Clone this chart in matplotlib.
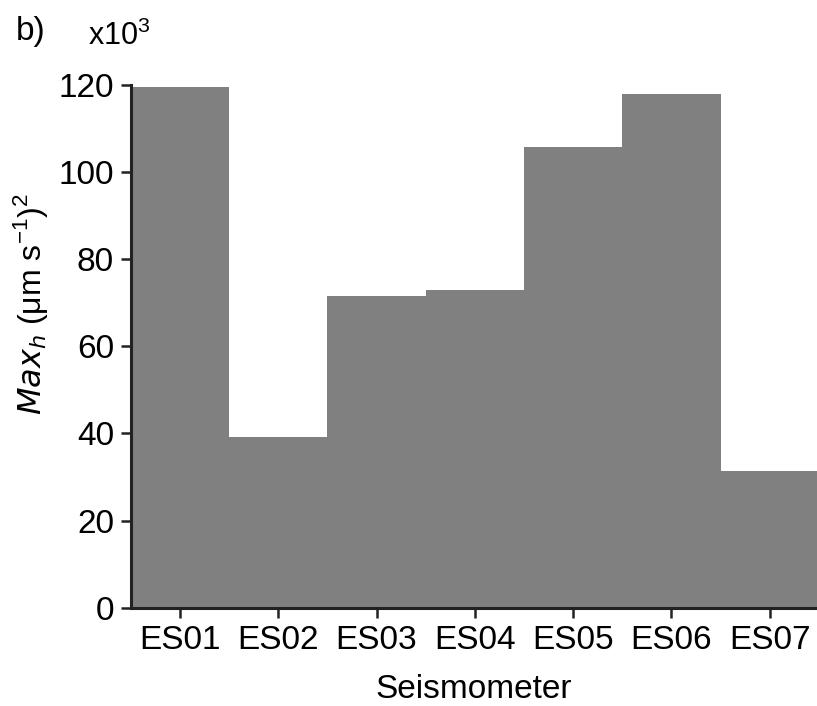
import numpy as np
import matplotlib.pyplot as plt

plt.rcParams['font.family'] = ['Liberation Sans', 'DejaVu Sans']

stations = ["ES01", "ES02", "ES03", "ES04", "ES05", "ES06", "ES07"]
max_h = [119.5, 39.3, 71.5, 72.9, 105.6, 117.8, 31.3]  # x10^3
yticks = [0, 20, 40, 60, 80, 100, 120]

fig = plt.figure(figsize=(8.17, 7.06), dpi=100)
ax = fig.add_axes([0.160, 0.139, 0.840, 0.741])

x = np.arange(1, len(stations) + 1)
ax.bar(x, max_h, width=1.0, color="#808080", edgecolor="none")

ax.set_xlim(0.5, 7.48)
ax.set_ylim(0, 120)
ax.set_yticks(yticks)
ax.set_xticks(x)
ax.set_xticklabels(stations)
ax.tick_params(labelsize=24, length=7, width=1.8, color="#222222", pad=5)
for s in ["top", "right"]:
    ax.spines[s].set_visible(False)
for s in ["left", "bottom"]:
    ax.spines[s].set_linewidth(2.2)
    ax.spines[s].set_color("#222222")

ax.set_xlabel("Seismometer", fontsize=24, labelpad=13)
ax.set_ylabel(r"$Max_h$ ($\mathregular{\mu}$m s$^{\mathregular{-1}}$)$^{\mathregular{2}}$",
              fontsize=23)
ax.yaxis.set_label_coords(-0.118, 0.58)

fig.text(0.020, 0.955, "b)", fontsize=24, va="center")
fig.text(0.108, 0.948, r"x10$^{\mathregular{3}}$", fontsize=22, va="center")

plt.savefig("out.png", dpi=100)
